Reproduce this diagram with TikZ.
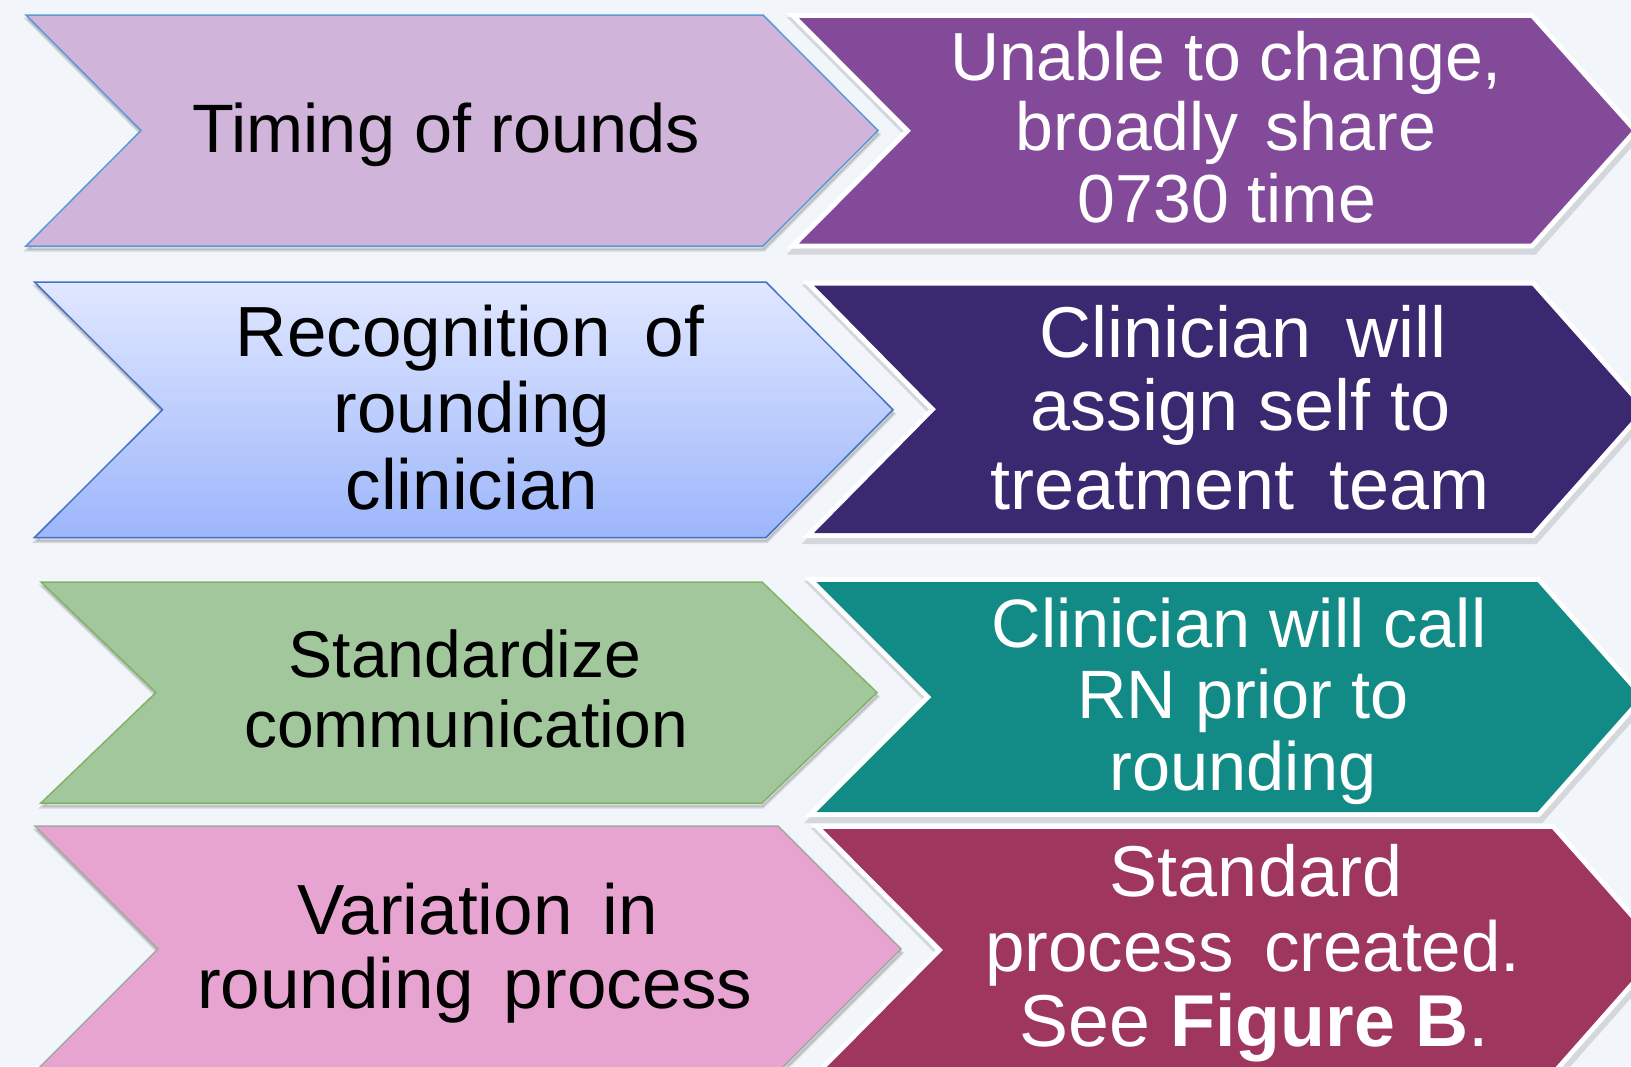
\documentclass[tikz,border=0pt]{standalone}
\usepackage{fontspec}
\setmainfont{Liberation Sans}
\begin{document}
\definecolor{bgc}{HTML}{F2F5FA}
\definecolor{lilac}{HTML}{D0B4DA}
\definecolor{lilacline}{HTML}{5B9BD5}
\definecolor{plum}{HTML}{834A99}
\definecolor{skytop}{HTML}{E0E7FF}
\definecolor{skybot}{HTML}{9DB6FB}
\definecolor{skyline}{HTML}{4472C4}
\definecolor{indigo}{HTML}{3A2870}
\definecolor{sage}{HTML}{A3C79D}
\definecolor{sageline}{HTML}{7FB562}
\definecolor{tealc}{HTML}{128A85}
\definecolor{rose}{HTML}{E8A4D0}
\definecolor{roseline}{HTML}{A4A8A4}
\definecolor{wine}{HTML}{9E365E}
% chevron outline: x0, x1, top, bottom, notch depth, tip length
\newcommand\chevpath[6]{(#1,#3) -- (#2,#3) -- ({#2+#6},{(#3+#4)/2}) -- (#2,#4) -- (#1,#4) -- ({#1+#5},{(#3+#4)/2}) -- cycle}
\newcommand\fsz[1]{\fontsize{#1}{#1}\selectfont}
\begin{tikzpicture}[x=1pt,y=-1pt,
  lchev/.style={line width=1.5pt, line join=miter},
  rchev/.style={preaction={draw=white, line width=10pt, line join=miter}},
  lshadow/.style={fill=black, opacity=0.12, draw=black, line width=3pt, shift={(1,4)}},
  rshadow/.style={fill=black, opacity=0.12, draw=black, line width=12pt, line join=miter, shift={(2,5)}},
  ltxt/.style={anchor=base, inner sep=0pt, text=black},
  rtxt/.style={anchor=base, inner sep=0pt, text=white}]
\useasboundingbox (0,0) rectangle (1631,1066);
\clip (0,0) rectangle (1631,1066);
\fill[bgc] (0,0) rectangle (1631,1066);

% shadows
\path[lshadow] \chevpath{26}{763}{15}{246}{115}{115};
\path[lshadow] \chevpath{34.5}{766}{282}{537.5}{128}{127};
\path[lshadow] \chevpath{41}{762}{582}{803}{115}{115};
\path[lshadow] \chevpath{35}{778}{826}{1072}{123}{123};
\path[rshadow] \chevpath{799}{1531}{18}{243.5}{112}{101};
\path[rshadow] \chevpath{814}{1532}{285.5}{533}{122}{110};
\path[rshadow] \chevpath{816.5}{1537.5}{582}{812}{115}{102};
\path[rshadow] \chevpath{823}{1552}{829}{1071}{120}{107};

% left column
\draw[lchev, fill=lilac, draw=lilacline] \chevpath{26}{763}{15}{246}{115}{115};
\draw[lchev, top color=skytop, bottom color=skybot, draw=skyline] \chevpath{34.5}{766}{282}{537.5}{128}{127};
\draw[lchev, fill=sage, draw=sageline] \chevpath{41}{762}{582}{803}{115}{115};
\draw[lchev, fill=rose, draw=roseline] \chevpath{35}{778}{826}{1072}{123}{123};

% right column
\fill[rchev, plum] \chevpath{799}{1531}{18}{243.5}{112}{101};
\fill[rchev, indigo] \chevpath{814}{1532}{285.5}{533}{122}{110};
\fill[rchev, tealc] \chevpath{816.5}{1537.5}{582}{812}{115}{102};
\fill[rchev, wine] \chevpath{823}{1552}{829}{1071}{120}{107};

% row 1
\node[ltxt, font=\fsz{68.5}] (a1) at (446,152) {Timing of rounds};
\node[rtxt, font=\fsz{68}] (b1a) at (1226,80) {Unable to change,};
\node[rtxt, font=\fsz{68}] (b1b) at (1226,150) {broadly\hspace{0.12em} share};
\node[rtxt, font=\fsz{68}] (b1c) at (1227,222) {0730 time};

% row 2
\node[ltxt, font=\fsz{71}] (a2a) at (470,356) {Recognition\hspace{0.2em} of};
\node[ltxt, font=\fsz{71}] (a2b) at (472,432) {rounding};
\node[ltxt, font=\fsz{71}] (a2c) at (472,509) {clinician};
\node[rtxt, font=\fsz{72}] (b2a) at (1243,357) {Clinician\hspace{0.2em} will};
\node[rtxt, font=\fsz{72}] (b2b) at (1241,430) {assign self to};
\node[rtxt, font=\fsz{72}] (b2c) at (1240,509) {treatment\hspace{0.2em} team};

% row 3
\node[ltxt, font=\fsz{66}] (a3a) at (465,677) {Standardize};
\node[ltxt, font=\fsz{66}] (a3b) at (466,747) {communication};
\node[rtxt, font=\fsz{68.5}] (b3a) at (1239,647) {Clinician will call};
\node[rtxt, font=\fsz{68.5}] (b3b) at (1243,718) {RN prior to};
\node[rtxt, font=\fsz{68.5}] (b3c) at (1243,790) {rounding};

% row 4
\node[ltxt, font=\fsz{71}] (a4a) at (478,934) {Variation\hspace{0.15em} in};
\node[ltxt, font=\fsz{71}] (a4b) at (475,1008) {rounding\hspace{0.15em} process};
\node[rtxt, font=\fsz{72}] (b4a) at (1256,896) {Standard};
\node[rtxt, font=\fsz{71}] (b4b) at (1253,971) {process\hspace{0.15em} created.};
\node[rtxt, font=\fsz{73.5}] (b4c) at (1254,1046) {See \textbf{Figure B}.};
\end{tikzpicture}
\end{document}
